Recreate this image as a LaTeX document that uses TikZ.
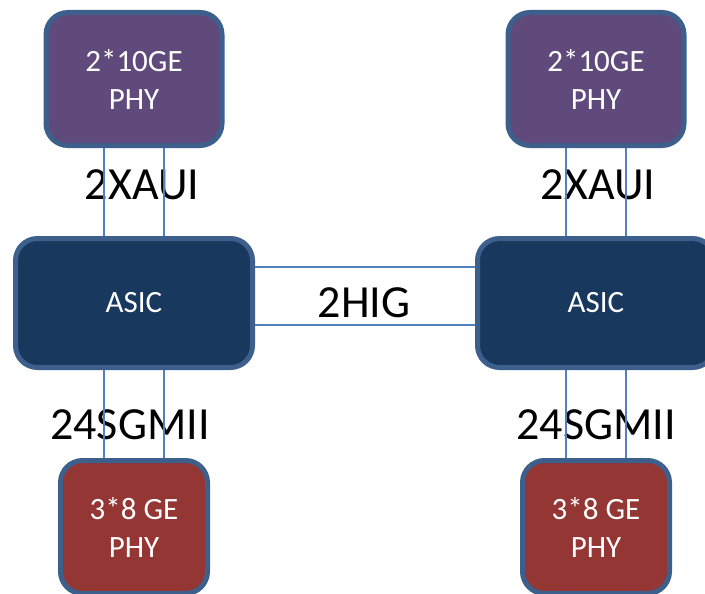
\documentclass[tikz,border=0pt]{standalone}
\usepackage{fontspec}
\setmainfont{Carlito}
\usepackage{tikz}
\usetikzlibrary{positioning}
\definecolor{phypurple}{RGB}{96, 74, 123}
\definecolor{asicnavy}{RGB}{25, 56, 94}
\definecolor{phyred}{RGB}{148, 54, 52}
\definecolor{boxborder}{RGB}{60, 95, 140}
\definecolor{linkblue}{RGB}{79, 129, 189}

\begin{document}
\begin{tikzpicture}[
  x=1pt, y=-1pt,
  box/.style={rectangle, rounded corners=22pt, draw=boxborder, line width=5pt, text=white, align=center, inner sep=0pt, font=\fontsize{31}{38}\selectfont},
  phyten/.style={box, fill=phypurple, minimum width=176pt, minimum height=133pt},
  asic/.style={box, fill=asicnavy, minimum width=237pt, minimum height=129pt},
  phyge/.style={box, fill=phyred, minimum width=147pt, minimum height=133pt},
  link/.style={draw=linkblue, line width=1.3pt},
  lbl/.style={font=\fontsize{46}{46}\selectfont, inner sep=0pt}
]
\useasboundingbox (0,0) rectangle (705,594);
\clip (0,0) rectangle (705,594);

\node[phyten] (tenL) at (134,79) {2*10GE\\PHY};
\node[phyten] (tenR) at (596,79) {2*10GE\\PHY};

\node[asic] (asicL) at (134,303) {ASIC};
\node[asic] (asicR) at (596,303) {ASIC};

\node[phyge] (geL) at (134,527) {3*8 GE\\PHY};
\node[phyge] (geR) at (596,527) {3*8 GE\\PHY};

\node[lbl] (xauiL) at (142,185) {2XAUI};
\node[lbl] (xauiR) at (598,185) {2XAUI};
\node[lbl] (hig) at (364,303) {2HIG};
\node[lbl] (sgmiiL) at (130,425) {24SGMII};
\node[lbl] (sgmiiR) at (596,425) {24SGMII};

\foreach \s in {-30,30} {
  \draw[link] ([xshift=\s]tenL.south) -- ([xshift=\s]asicL.north);
  \draw[link] ([xshift=\s]tenR.south) -- ([xshift=\s]asicR.north);
  \draw[link] ([xshift=\s]asicL.south) -- ([xshift=\s]geL.north);
  \draw[link] ([xshift=\s]asicR.south) -- ([xshift=\s]geR.north);
}
\draw[link] ([yshift=36]asicL.east) -- ([yshift=36]asicR.west);
\draw[link] ([yshift=-22]asicL.east) -- ([yshift=-22]asicR.west);

\end{tikzpicture}
\end{document}
